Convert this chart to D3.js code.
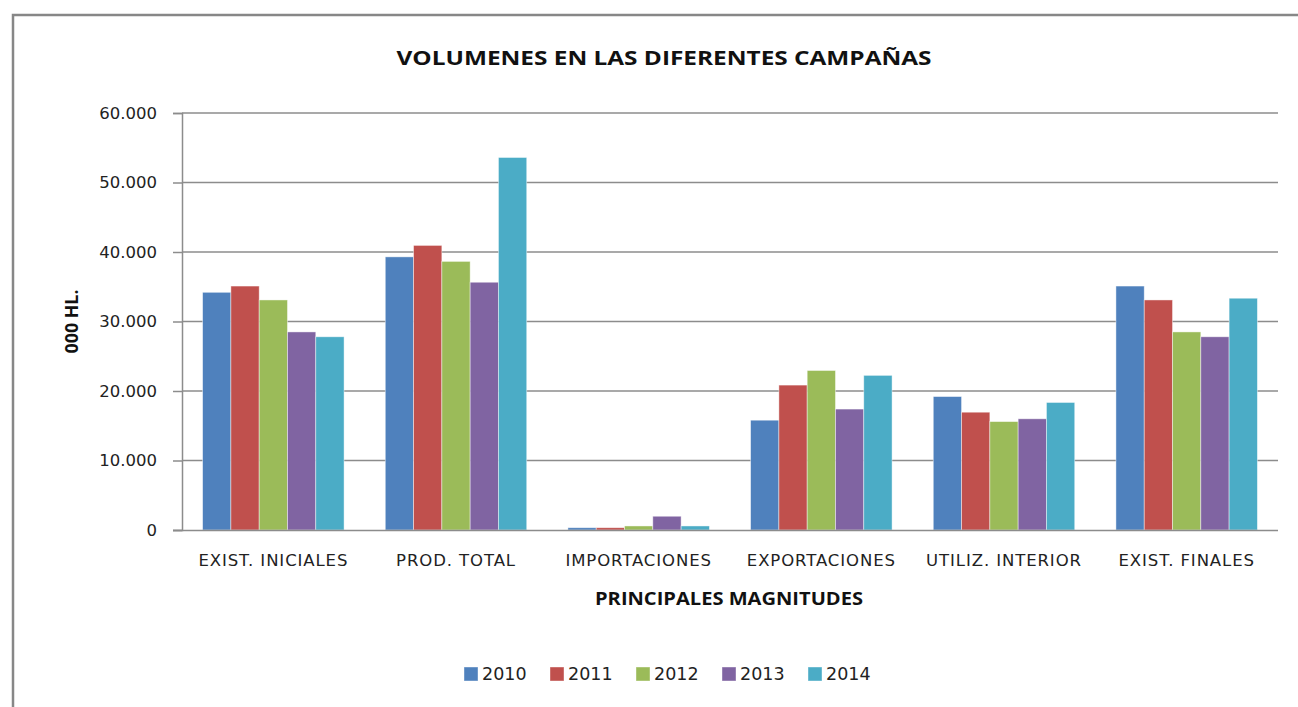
<!DOCTYPE html>
<html>
<head>
<meta charset="utf-8">
<script src="https://cdn.jsdelivr.net/npm/d3@7/dist/d3.min.js"></script>
<style>
  html, body { margin: 0; padding: 0; background: #fff; }
  svg { display: block; }
</style>
</head>
<body>
<svg id="chart" width="1298" height="707"></svg>
<script>
const categories = ["EXIST. INICIALES", "PROD. TOTAL", "IMPORTACIONES", "EXPORTACIONES", "UTILIZ. INTERIOR", "EXIST. FINALES"];
const years = ["2010", "2011", "2012", "2013", "2014"];
const values2010 = [34200, 39300, 330, 15800, 19200, 35100];
const values2011 = [35100, 40950, 330, 20850, 16950, 33100];
const values2012 = [33100, 38650, 580, 22950, 15600, 28500];
const values2013 = [28500, 35650, 1980, 17400, 16000, 27800];
const values2014 = [27800, 53600, 580, 22250, 18350, 33350];
const yTicks = [0, 10000, 20000, 30000, 40000, 50000, 60000];
const colors = ["#4F81BD", "#C0504D", "#9BBB59", "#8064A2", "#4BACC6"];
const title = "VOLUMENES EN LAS DIFERENTES CAMPAÑAS";
const xTitle = "PRINCIPALES MAGNITUDES";
const yTitle = "000 HL.";

const series = [values2010, values2011, values2012, values2013, values2014];

const svg = d3.select("#chart");
const pLeft = 182, pRight = 1278, pTop = 113, pBottom = 530;

// outer border
svg.append("path")
  .attr("d", `M13,710 L13,15 L1300,15`)
  .attr("fill", "none").attr("stroke", "#878787").attr("stroke-width", 2.5);

const x0 = d3.scaleBand().domain(categories).range([pLeft, pRight]).padding(0);
const x1 = d3.scaleBand().domain(years).range([0, x0.bandwidth()]).paddingInner(0).paddingOuter(0.728);
const y = d3.scaleLinear().domain([0, 60000]).range([pBottom, pTop]);

const fmt = v => v === 0 ? "0" : d3.format(",")(v).replace(/,/g, ".");

// gridlines
svg.append("g").selectAll("line").data(yTicks.filter(t => t > 0)).join("line")
  .attr("x1", pLeft).attr("x2", pRight)
  .attr("y1", d => y(d)).attr("y2", d => y(d))
  .attr("stroke", "#8c8c8c").attr("stroke-width", 1.5);

// y axis
const yAxis = d3.axisLeft(y).tickValues(yTicks).tickFormat(fmt).tickSize(9).tickPadding(16);
const gy = svg.append("g").attr("transform", `translate(${pLeft},0)`).call(yAxis);
gy.select(".domain").attr("stroke", "#8c8c8c").attr("stroke-width", 1.5);
gy.selectAll(".tick line").attr("stroke", "#8c8c8c").attr("stroke-width", 1.5);
gy.selectAll(".tick text").attr("font-family", "DejaVu Sans").attr("font-size", 16.5).attr("fill", "#222");

// bars
const groups = svg.append("g").selectAll("g").data(categories).join("g")
  .attr("transform", d => `translate(${x0(d)},0)`);
groups.selectAll("rect").data((c, i) => years.map((yr, j) => ({ yr, j, v: series[j][i] }))).join("rect")
  .attr("x", d => x1(d.yr))
  .attr("width", x1.bandwidth())
  .attr("y", d => y(d.v))
  .attr("height", d => y(0) - y(d.v))
  .attr("fill", d => colors[d.j])
  .attr("stroke", "rgba(255,255,255,0.55)").attr("stroke-width", 0.8);

// x axis
const xAxis = d3.axisBottom(x0).tickSize(0).tickPadding(24);
const gx = svg.append("g").attr("transform", `translate(0,${pBottom})`).call(xAxis);
gx.select(".domain").attr("stroke", "#8c8c8c").attr("stroke-width", 1.5).attr("d", `M${173},0.5H${pRight}`);
gx.selectAll(".tick text").attr("font-family", "DejaVu Sans").attr("font-size", 16.5).attr("fill", "#222")
  .attr("letter-spacing", "0.9px");

// titles
svg.append("text").attr("x", 664).attr("y", 65).attr("text-anchor", "middle")
  .attr("font-family", "Open Sans").attr("font-weight", "bold").attr("font-size", 20)
  .attr("textLength", 535).attr("lengthAdjust", "spacingAndGlyphs")
  .attr("fill", "#111").text(title);
svg.append("text").attr("x", 729).attr("y", 605).attr("text-anchor", "middle")
  .attr("font-family", "Open Sans").attr("font-weight", "bold").attr("font-size", 17)
  .attr("textLength", 268).attr("lengthAdjust", "spacingAndGlyphs")
  .attr("fill", "#111").text(xTitle);
svg.append("text").attr("transform", `translate(78,${(pTop + pBottom) / 2}) rotate(-90)`).attr("text-anchor", "middle")
  .attr("font-family", "Open Sans").attr("font-weight", "bold").attr("font-size", 17)
  .attr("textLength", 64).attr("lengthAdjust", "spacingAndGlyphs")
  .attr("fill", "#111").text(yTitle);

// legend
const legendX = d3.scalePoint().domain(years).range([464, 808]);
const lg = svg.append("g").selectAll("g").data(years).join("g")
  .attr("transform", d => `translate(${legendX(d)},667)`);
lg.append("rect").attr("width", 14).attr("height", 14).attr("fill", (d, i) => colors[i])
  .attr("stroke", "rgba(255,255,255,0.5)").attr("stroke-width", 0.8);
lg.append("text").attr("x", 18).attr("y", 13).attr("font-family", "DejaVu Sans").attr("font-size", 17.5)
  .attr("fill", "#222").text(d => d);
</script>
</body>
</html>
